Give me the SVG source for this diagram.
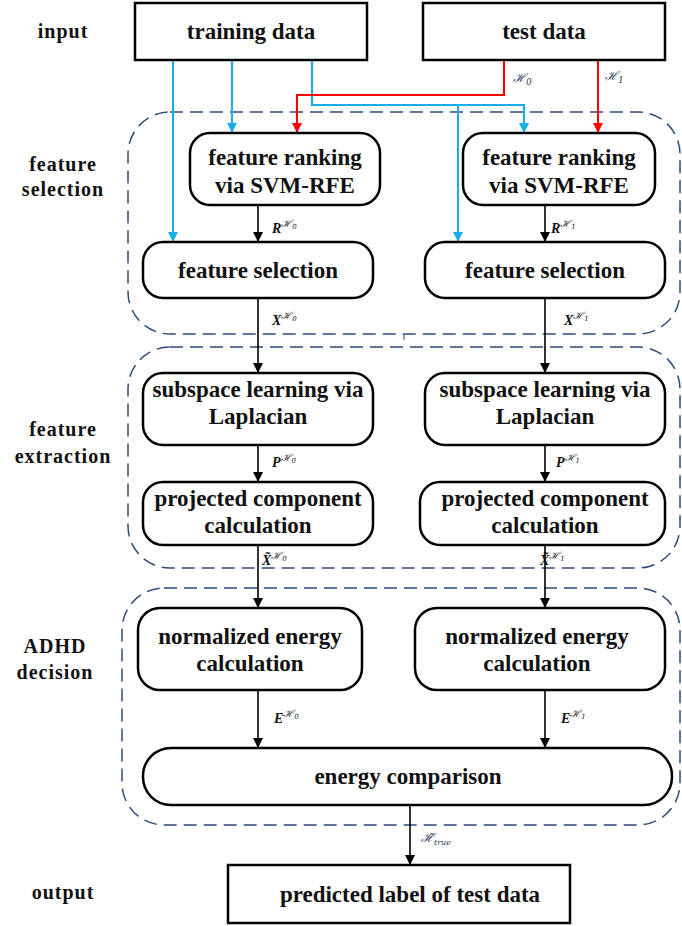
<svg xmlns="http://www.w3.org/2000/svg" width="682" height="926" viewBox="0 0 682 926">
<defs>
<style>
.t{font-family:'Liberation Serif','DejaVu Serif',serif;font-weight:bold;font-size:23px;fill:#111;text-anchor:middle}
.side{font-family:'Liberation Serif','DejaVu Serif',serif;font-weight:bold;font-size:20px;fill:#111;text-anchor:middle;letter-spacing:1px}
.box{fill:#fff;stroke:#000;stroke-width:2.5}
.grp{fill:none;stroke:#2E4A7D;stroke-width:1.5;stroke-dasharray:13 7}
.blk{fill:none;stroke:#000;stroke-width:1.6}
.blu{fill:none;stroke:#18AEEA;stroke-width:2}
.red{fill:none;stroke:#F00;stroke-width:2}
.lab{font-family:'Liberation Serif',serif;font-weight:bold;font-style:italic;font-size:14px;fill:#111}
.sup{font-family:'DejaVu Serif',serif;font-style:italic;font-weight:normal;font-size:10px;fill:#222}
.hl{font-family:'DejaVu Serif',serif;font-style:italic;font-size:12px;fill:#2E3A5E}
</style>
<marker id="ak" viewBox="0 0 10 10" refX="10" refY="5" markerWidth="10" markerHeight="12" markerUnits="userSpaceOnUse" orient="auto"><path d="M0,0 L10,5 L0,10 z" fill="#000"/></marker>
<marker id="ab" viewBox="0 0 10 10" refX="10" refY="5" markerWidth="10" markerHeight="12" markerUnits="userSpaceOnUse" orient="auto"><path d="M0,0 L10,5 L0,10 z" fill="#18AEEA"/></marker>
<marker id="ar" viewBox="0 0 10 10" refX="10" refY="5" markerWidth="10" markerHeight="12" markerUnits="userSpaceOnUse" orient="auto"><path d="M0,0 L10,5 L0,10 z" fill="#F00"/></marker>
</defs>
<rect width="682" height="926" fill="#fff"/>

<g id="stage-labels">
<text class="side" x="63" y="38">input</text>
<text class="side" x="63" y="171">feature</text>
<text class="side" x="63" y="196">selection</text>
<text class="side" x="63" y="436">feature</text>
<text class="side" x="63" y="463">extraction</text>
<text class="side" x="55" y="653">ADHD</text>
<text class="side" x="55" y="679">decision</text>
<text class="side" x="63" y="899">output</text>
</g>

<g id="groups">
<rect id="grp-selection" class="grp" x="128" y="112" width="552" height="222" rx="42"/>
<rect id="grp-extraction" class="grp" x="128" y="347" width="552" height="221" rx="42"/>
<rect id="grp-decision" class="grp" x="122" y="588" width="558" height="237" rx="42"/>
<line x1="404" y1="334" x2="404" y2="340" stroke="#2E4A7D" stroke-width="1"/>
</g>

<g id="connectors">
<path class="blu" d="M173,60 V242" marker-end="url(#ab)"/>
<path class="blu" d="M232,60 V133" marker-end="url(#ab)"/>
<path class="blu" d="M312,60 V105 H524 V133" marker-end="url(#ab)"/>
<path class="blu" d="M458,105 V242" marker-end="url(#ab)"/>
<path class="red" d="M504,60 V95 H297 V133" marker-end="url(#ar)"/>
<path class="red" d="M598,60 V133" marker-end="url(#ar)"/>
<text class="hl" x="513" y="82">ℋ<tspan font-size="9" dy="3">0</tspan></text>
<text class="hl" x="605" y="80">ℋ<tspan font-size="9" dy="3">1</tspan></text>

<path class="blk" d="M258,205 V242" marker-end="url(#ak)"/>
<path class="blk" d="M258,298 V373" marker-end="url(#ak)"/>
<path class="blk" d="M258,445 V482" marker-end="url(#ak)"/>
<path class="blk" d="M258,545 V608" marker-end="url(#ak)"/>
<path class="blk" d="M258,690 V748" marker-end="url(#ak)"/>
<path class="blk" d="M545,205 V242" marker-end="url(#ak)"/>
<path class="blk" d="M545,298 V373" marker-end="url(#ak)"/>
<path class="blk" d="M545,445 V482" marker-end="url(#ak)"/>
<path class="blk" d="M545,545 V608" marker-end="url(#ak)"/>
<path class="blk" d="M545,690 V748" marker-end="url(#ak)"/>
<path class="blk" d="M410,805 V865" marker-end="url(#ak)"/>

<text class="lab" x="272" y="233">R<tspan class="sup" dy="-6">ℋ<tspan font-size="7" dy="2">0</tspan></tspan></text>
<text class="lab" x="551" y="233">R<tspan class="sup" dy="-6">ℋ<tspan font-size="7" dy="2">1</tspan></tspan></text>
<text class="lab" x="272" y="325">X<tspan class="sup" dy="-6">ℋ<tspan font-size="7" dy="2">0</tspan></tspan></text>
<text class="lab" x="564" y="325">X<tspan class="sup" dy="-6">ℋ<tspan font-size="7" dy="2">1</tspan></tspan></text>
<text class="lab" x="272" y="467">P<tspan class="sup" dy="-6">ℋ<tspan font-size="7" dy="2">0</tspan></tspan></text>
<text class="lab" x="556" y="467">P<tspan class="sup" dy="-6">ℋ<tspan font-size="7" dy="2">1</tspan></tspan></text>
<text class="lab" x="262" y="565">X̃<tspan class="sup" dy="-6">ℋ<tspan font-size="7" dy="2">0</tspan></tspan></text>
<text class="lab" x="540" y="565">X̃<tspan class="sup" dy="-6">ℋ<tspan font-size="7" dy="2">1</tspan></tspan></text>
<text class="lab" x="274" y="723">E<tspan class="sup" dy="-6">ℋ<tspan font-size="7" dy="2">0</tspan></tspan></text>
<text class="lab" x="561" y="723">E<tspan class="sup" dy="-6">ℋ<tspan font-size="7" dy="2">1</tspan></tspan></text>
<text class="hl" x="421" y="842" font-size="11">ℋ̃<tspan font-size="8" dy="3">true</tspan></text>
</g>

<g id="training-data"><rect class="box" x="135" y="3" width="232" height="57"/><text class="t" x="251" y="39">training data</text></g>
<g id="test-data"><rect class="box" x="423" y="3" width="242" height="57"/><text class="t" x="544" y="39">test data</text></g>

<g id="ranking-0"><rect class="box" x="190" y="133" width="190" height="72" rx="20"/><text class="t" x="285" y="165">feature ranking</text><text class="t" x="285" y="193">via SVM-RFE</text></g>
<g id="ranking-1"><rect class="box" x="463" y="133" width="192" height="72" rx="20"/><text class="t" x="559" y="165">feature ranking</text><text class="t" x="559" y="193">via SVM-RFE</text></g>

<g id="selection-0"><rect class="box" x="143" y="242" width="230" height="56" rx="20"/><text class="t" x="258" y="278">feature selection</text></g>
<g id="selection-1"><rect class="box" x="425" y="242" width="240" height="56" rx="20"/><text class="t" x="545" y="278">feature selection</text></g>

<g id="subspace-0"><rect class="box" x="143" y="373" width="230" height="72" rx="20"/><text class="t" x="258" y="397">subspace learning via</text><text class="t" x="258" y="424">Laplacian</text></g>
<g id="subspace-1"><rect class="box" x="425" y="373" width="240" height="72" rx="20"/><text class="t" x="545" y="397">subspace learning via</text><text class="t" x="545" y="424">Laplacian</text></g>

<g id="projected-0"><rect class="box" x="143" y="482" width="230" height="63" rx="20"/><text class="t" x="258" y="506">projected component</text><text class="t" x="258" y="533">calculation</text></g>
<g id="projected-1"><rect class="box" x="420" y="482" width="245" height="63" rx="20"/><text class="t" x="545" y="506">projected component</text><text class="t" x="545" y="533">calculation</text></g>

<g id="energy-0"><rect class="box" x="138" y="608" width="224" height="82" rx="22"/><text class="t" x="250" y="644">normalized energy</text><text class="t" x="250" y="671">calculation</text></g>
<g id="energy-1"><rect class="box" x="415" y="608" width="250" height="82" rx="22"/><text class="t" x="537" y="644">normalized energy</text><text class="t" x="537" y="671">calculation</text></g>

<g id="energy-comparison"><rect class="box" x="143" y="748" width="529" height="57" rx="28"/><text class="t" x="408" y="784">energy comparison</text></g>

<g id="predicted-label"><rect class="box" x="228" y="865" width="342" height="58"/><text class="t" x="410" y="902">predicted label of test data</text></g>
</svg>
